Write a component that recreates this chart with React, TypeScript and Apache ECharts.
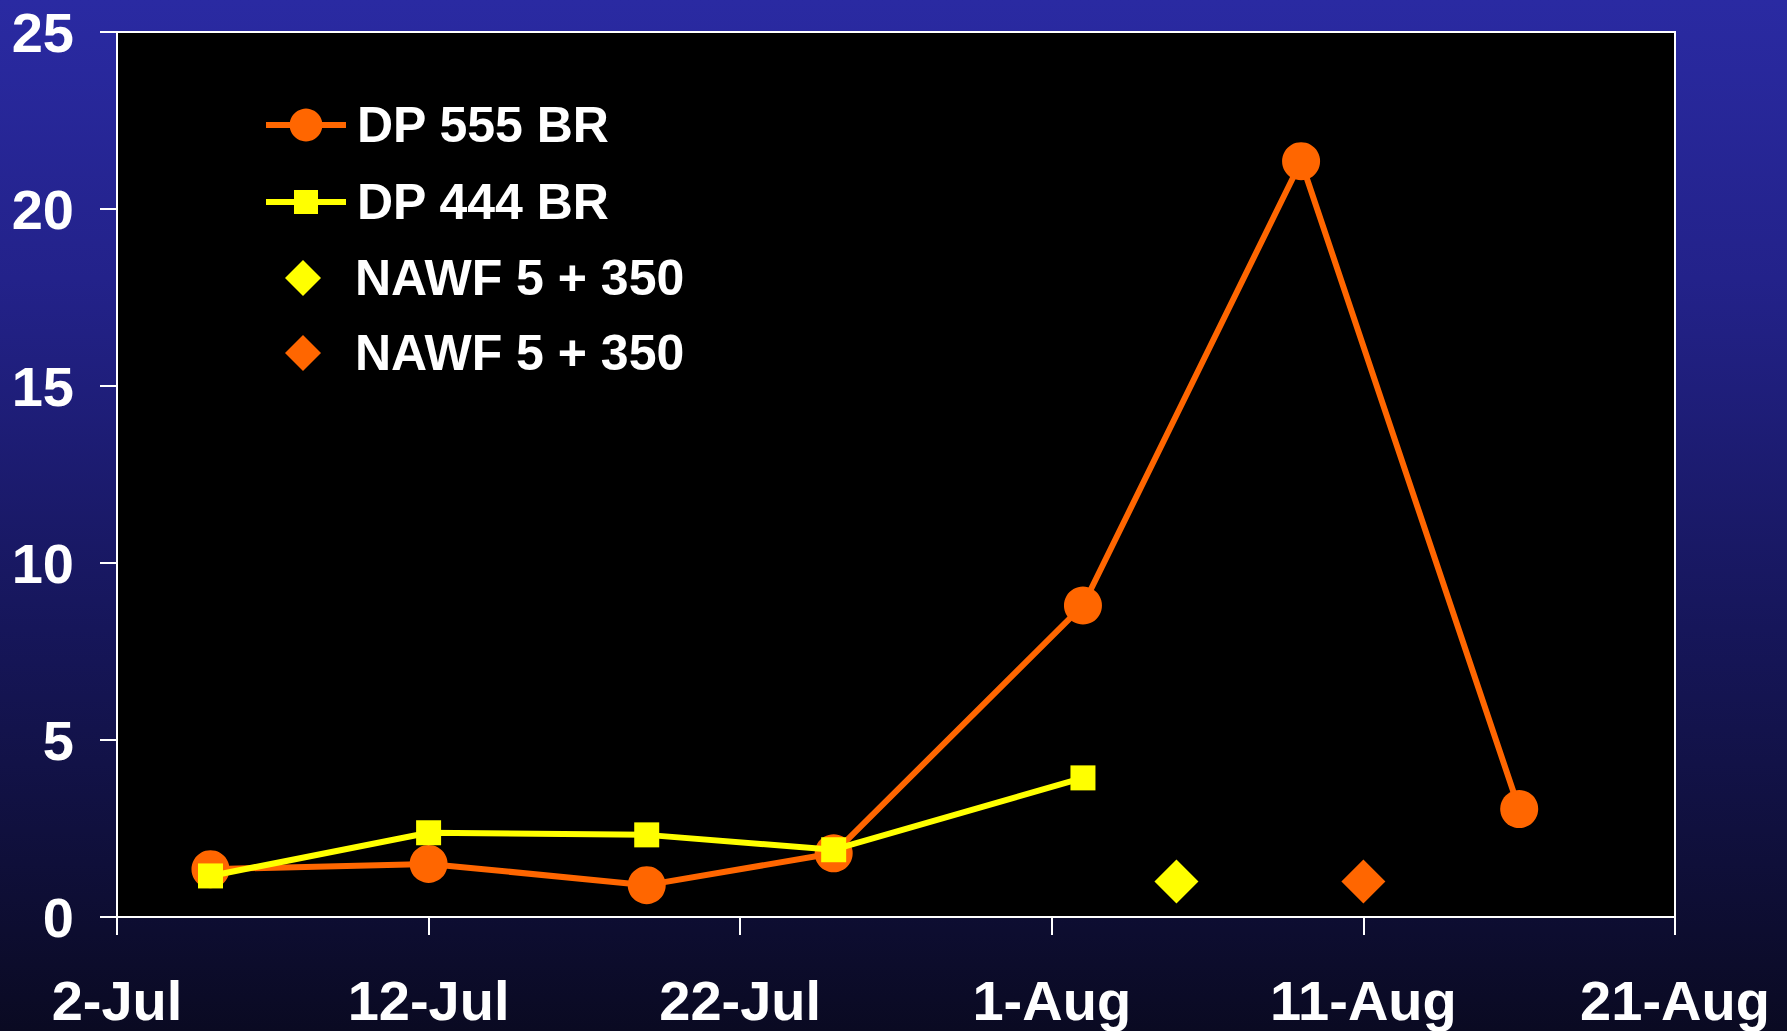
import React, { useEffect, useRef } from 'react';
import * as echarts from 'echarts';

// ---- Data ----
const xTickLabels = ['2-Jul', '12-Jul', '22-Jul', '1-Aug', '11-Aug', '21-Aug'];
// x values are days after 2-Jul
const dp555Days = [3, 10, 17, 23, 31, 38, 45];
const dp555Values = [1.35, 1.5, 0.9, 1.8, 8.8, 21.35, 3.05];
const dp444Days = [3, 10, 17, 23, 31];
const dp444Values = [1.16, 2.38, 2.32, 1.9, 3.93];
const nawfYellowDays = [34];
const nawfYellowValues = [1.0];
const nawfOrangeDays = [40];
const nawfOrangeValues = [1.0];
const seriesNames = ['DP 555 BR', 'DP 444 BR', 'NAWF 5 + 350', 'NAWF 5 + 350'];

const ORANGE = '#FF6600';
const YELLOW = '#FFFF00';
const FONT = '"Liberation Sans", Arial, sans-serif';

const pairs = (xs: number[], ys: number[]) => xs.map((x, i) => [x, ys[i]]);

export default function App() {
  const ref = useRef<HTMLDivElement>(null);
  useEffect(() => {
    if (!ref.current) return;
    const chart = echarts.init(ref.current, undefined, { renderer: 'svg' });
    const legendText = (padLeft: number) => ({
      color: '#FFFFFF',
      fontSize: 50,
      fontWeight: 'bold' as const,
      fontFamily: FONT,
      lineHeight: 50,
      padding: [0, 0, 0, padLeft],
    });
    const legendBase = {
      orient: 'horizontal' as const,
      padding: 0,
      itemGap: 0,
      selectedMode: false,
      symbolKeepAspect: true,
      lineStyle: { width: 6 },
    };
    chart.setOption({
      animation: false,
      backgroundColor: {
        type: 'linear',
        x: 0, y: 0, x2: 0, y2: 1,
        colorStops: [
          { offset: 0, color: '#2A2AA2' },
          { offset: 0.27, color: '#23228A' },
          { offset: 0.61, color: '#16165A' },
          { offset: 1, color: '#0A0A22' },
        ],
      },
      grid: {
        left: 117,
        right: 112,
        top: 32,
        bottom: 114,
        show: true,
        backgroundColor: '#000000',
        borderColor: '#FFFFFF',
        borderWidth: 2,
      },
      legend: [
        { ...legendBase, left: 263, top: 100, itemWidth: 80, itemHeight: 41, textStyle: legendText(6), data: [seriesNames[0]] },
        { ...legendBase, left: 263, top: 177, itemWidth: 80, itemHeight: 30, textStyle: legendText(6), data: [seriesNames[1]] },
        { ...legendBase, left: 285, top: 253, itemWidth: 36, itemHeight: 36, textStyle: legendText(29), data: [seriesNames[2]] },
        {
          ...legendBase,
          left: 285,
          top: 328,
          itemWidth: 36,
          itemHeight: 36,
          textStyle: legendText(29),
          data: [{ name: seriesNames[3], itemStyle: { color: ORANGE, opacity: 1 } }],
        },
      ],
      xAxis: {
        type: 'value',
        min: 0,
        max: 50,
        interval: 10,
        splitLine: { show: false },
        axisLine: { show: true, onZero: false, lineStyle: { color: '#FFFFFF', width: 2 } },
        axisTick: { show: true, length: 18, lineStyle: { color: '#FFFFFF', width: 2 } },
        axisLabel: {
          color: '#FFFFFF',
          fontSize: 56,
          fontWeight: 'bold',
          fontFamily: FONT,
          margin: 55,
          formatter: (v: number) => xTickLabels[Math.round(v / 10)] ?? '',
        },
      },
      yAxis: {
        type: 'value',
        min: 0,
        max: 25,
        interval: 5,
        splitLine: { show: false },
        axisLine: { show: true, lineStyle: { color: '#FFFFFF', width: 2 } },
        axisTick: { show: true, length: 17, lineStyle: { color: '#FFFFFF', width: 2 } },
        axisLabel: {
          color: '#FFFFFF',
          fontSize: 56,
          fontWeight: 'bold',
          fontFamily: FONT,
          margin: 43,
        },
      },
      series: [
        {
          name: seriesNames[0],
          type: 'line',
          data: pairs(dp555Days, dp555Values),
          symbol: 'circle',
          symbolSize: 38,
          itemStyle: { color: ORANGE, opacity: 1 },
          lineStyle: { color: ORANGE, width: 6 },
          z: 2,
        },
        {
          name: seriesNames[1],
          type: 'line',
          data: pairs(dp444Days, dp444Values),
          symbol: 'rect',
          symbolSize: 25,
          itemStyle: { color: YELLOW, opacity: 1 },
          lineStyle: { color: YELLOW, width: 6 },
          z: 3,
        },
        {
          name: seriesNames[2],
          type: 'scatter',
          data: pairs(nawfYellowDays, nawfYellowValues),
          symbol: 'diamond',
          symbolSize: 44,
          itemStyle: { color: YELLOW, opacity: 1 },
          z: 3,
        },
        {
          name: seriesNames[3],
          type: 'scatter',
          data: pairs(nawfOrangeDays, nawfOrangeValues),
          symbol: 'diamond',
          symbolSize: 44,
          itemStyle: { color: ORANGE, opacity: 1 },
          z: 3,
        },
      ],
    });
    return () => chart.dispose();
  }, []);
  return (
    <div
      ref={ref}
      style={{ position: 'fixed', left: 0, top: 0, width: 1787, height: 1031 }}
    />
  );
}
